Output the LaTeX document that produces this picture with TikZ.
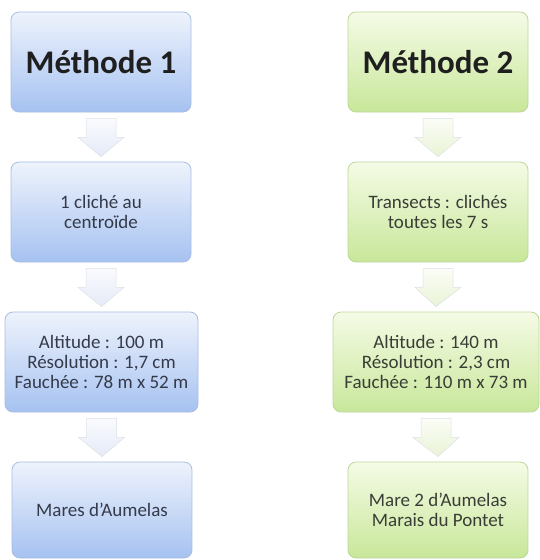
\documentclass[tikz,border=0pt]{standalone}
\usepackage{fontspec}
\setmainfont{Carlito}
\usetikzlibrary{calc}
\definecolor{btop}{HTML}{EEF3FC}
\definecolor{bbot}{HTML}{A6C2F1}
\definecolor{bline}{HTML}{A9BDE2}
\definecolor{gtop}{HTML}{F5FBE6}
\definecolor{gbot}{HTML}{C8E79A}
\definecolor{gline}{HTML}{BCD79A}
\definecolor{txtb}{HTML}{343A4A}
\definecolor{txtg}{HTML}{3A3D36}
\definecolor{abtop}{HTML}{FAFBFE}
\definecolor{abbot}{HTML}{E4EAF7}
\definecolor{agtop}{HTML}{FBFDF6}
\definecolor{agbot}{HTML}{E9F3D6}
\definecolor{aline}{HTML}{DDE0E6}
\tikzset{
  box/.style={rounded corners=8pt, draw, line width=0.8pt, inner sep=2pt, align=center,
    font=\fontsize{19}{20}\selectfont},
  bluebox/.style={box, draw=bline, top color=btop, bottom color=bbot, text=txtb},
  greenbox/.style={box, draw=gline, top color=gtop, bottom color=gbot, text=txtg},
  titletext/.style={font=\fontsize{33}{38}\bfseries\selectfont, text=black!88},
  bluearrow/.style={draw=aline, line width=0.5pt, top color=abtop, bottom color=abbot},
  greenarrow/.style={draw=aline, line width=0.5pt, top color=agtop, bottom color=agbot},
}
\newcommand{\blockarr}[3]{%
  \path[#3] ($(#1.south)+(-15,6)$) -- ($(#1.south)+(15,6)$) -- ($(#1.south)+(15,25)$)
    -- ($(#1.south)+(23,25)$) -- ($(#2.north)+(0,-5)$) -- ($(#1.south)+(-23,25)$)
    -- ($(#1.south)+(-15,25)$) -- cycle;}
\begin{document}
\begin{tikzpicture}[x=1pt,y=-1pt]
\useasboundingbox (0,0) rectangle (540,560);
% left column
\node[bluebox, titletext, minimum width=180pt, minimum height=100pt] (m1) at (101,62) {Méthode 1};
\node[bluebox, minimum width=180pt, minimum height=100pt] (c1) at (101,212) {1 cliché au\\centroïde};
\node[bluebox, minimum width=193pt, minimum height=100pt] (p1) at (101.5,362) {Altitude : 100 m\\Résolution : 1,7 cm\\Fauchée : 78 m x 52 m};
\node[bluebox, minimum width=180pt, minimum height=96pt] (s1) at (102,510) {Mares d’Aumelas};
% right column
\node[greenbox, titletext, minimum width=180pt, minimum height=100pt] (m2) at (438,62) {Méthode 2};
\node[greenbox, minimum width=180pt, minimum height=100pt] (c2) at (438,212) {Transects : clichés\\toutes les 7 s};
\node[greenbox, minimum width=206pt, minimum height=100pt] (p2) at (436,362) {Altitude : 140 m\\Résolution : 2,3 cm\\Fauchée : 110 m x 73 m};
\node[greenbox, minimum width=180pt, minimum height=96pt] (s2) at (438,510) {Mare 2 d’Aumelas\\Marais du Pontet};
% arrows
\blockarr{m1}{c1}{bluearrow}
\blockarr{c1}{p1}{bluearrow}
\blockarr{p1}{s1}{bluearrow}
\blockarr{m2}{c2}{greenarrow}
\blockarr{c2}{p2}{greenarrow}
\blockarr{p2}{s2}{greenarrow}
\end{tikzpicture}
\end{document}
